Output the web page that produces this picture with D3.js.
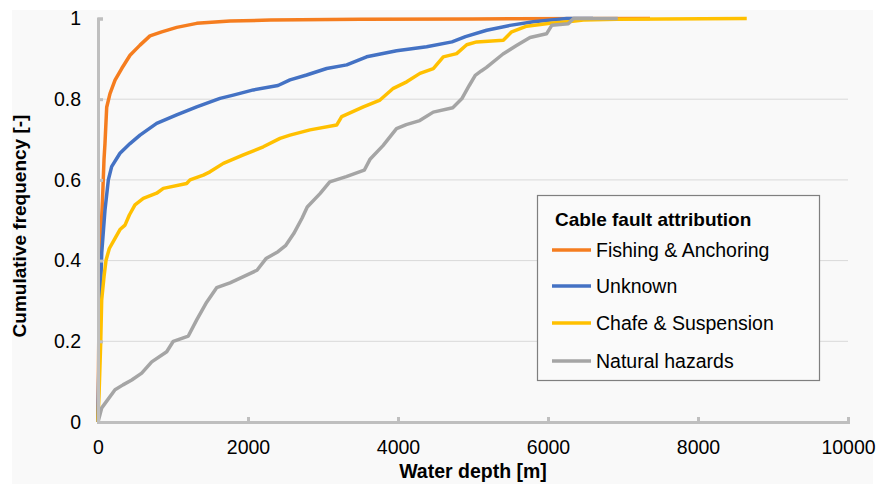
<!DOCTYPE html>
<html>
<head>
<meta charset="utf-8">
<script src="https://cdn.jsdelivr.net/npm/d3@7"></script>
<style>
  body { margin: 0; background: #fff; }
  svg { display: block; font-family: "Liberation Sans", Arial, sans-serif; }
</style>
</head>
<body>
<script>
// series names and colours (legend order = draw order)
var seriesNames = ["Fishing & Anchoring", "Unknown", "Chafe & Suspension", "Natural hazards"];
var seriesColors = ["#f57d1f", "#4472c4", "#ffc000", "#a5a5a5"];

// cumulative curves: depth [m] and cumulative frequency [-]
var fishingDepth = [0, 5, 15, 35, 60, 80, 93, 116, 160, 227, 316, 427, 560, 693, 850, 1050, 1316, 1760, 2300, 3500, 5000, 7360];
var fishingFreq  = [0, 0.1, 0.3, 0.45, 0.55, 0.65, 0.69, 0.78, 0.814, 0.847, 0.876, 0.909, 0.934, 0.957, 0.967, 0.978, 0.988, 0.994, 0.996, 0.998, 0.999, 1];

var unknownDepth = [0, 20, 50, 93, 138, 182, 293, 427, 560, 782, 1049, 1316, 1627, 1804, 2071, 2400, 2560, 2782, 3049, 3316, 3582, 3982, 4382, 4720, 4900, 5182, 5493, 5804, 6250, 6600];
var unknownFreq  = [0, 0.25, 0.42, 0.525, 0.6, 0.633, 0.666, 0.69, 0.711, 0.74, 0.761, 0.781, 0.802, 0.81, 0.823, 0.834, 0.848, 0.86, 0.876, 0.885, 0.905, 0.92, 0.93, 0.942, 0.955, 0.971, 0.983, 0.992, 1, 1];

var chafeDepth = [0, 17, 36, 49, 80, 107, 151, 227, 293, 360, 418, 493, 604, 782, 871, 1182, 1227, 1404, 1493, 1671, 1938, 2204, 2427, 2560, 2827, 3182, 3249, 3538, 3760, 3938, 4116, 4293, 4471, 4604, 4782, 4916, 5049, 5404, 5516, 5716, 6027, 6271, 6471, 6916, 8650];
var chafeFreq  = [0, 0.087, 0.196, 0.302, 0.36, 0.401, 0.43, 0.455, 0.477, 0.488, 0.513, 0.538, 0.554, 0.567, 0.579, 0.591, 0.6, 0.612, 0.62, 0.641, 0.662, 0.682, 0.703, 0.711, 0.724, 0.736, 0.757, 0.781, 0.798, 0.827, 0.843, 0.864, 0.876, 0.905, 0.913, 0.935, 0.942, 0.946, 0.967, 0.981, 0.988, 0.992, 0.996, 0.998, 1];

var naturalDepth = [0, 50, 227, 333, 450, 583, 716, 916, 1004, 1204, 1316, 1449, 1582, 1760, 1982, 2120, 2240, 2400, 2500, 2610, 2720, 2790, 2960, 3090, 3310, 3550, 3630, 3800, 3980, 4110, 4290, 4470, 4730, 4850, 4950, 5030, 5110, 5180, 5400, 5580, 5760, 5980, 6050, 6270, 6340, 6930];
var naturalFreq  = [0, 0.035, 0.08, 0.092, 0.104, 0.121, 0.149, 0.174, 0.2, 0.213, 0.253, 0.297, 0.333, 0.345, 0.364, 0.376, 0.405, 0.422, 0.437, 0.467, 0.505, 0.533, 0.566, 0.595, 0.608, 0.624, 0.652, 0.685, 0.727, 0.737, 0.747, 0.768, 0.779, 0.801, 0.834, 0.859, 0.87, 0.879, 0.912, 0.933, 0.953, 0.962, 0.983, 0.987, 1, 1];

var xTicks = [0, 2000, 4000, 6000, 8000, 10000];
var yTicks = [0, 0.2, 0.4, 0.6, 0.8, 1];
var gridTicks = [0.2, 0.4, 0.6, 0.8];

var width = 877, height = 488;

var svg = d3.select("body").append("svg")
    .attr("width", width)
    .attr("height", height);

// light grey panel behind everything
svg.append("rect")
    .attr("x", 12).attr("y", 10)
    .attr("width", 861).attr("height", 474)
    .attr("fill", "#f9f9f9");

var x = d3.scaleLinear().domain([0, 10000]).range([98, 848]);
var y = d3.scaleLinear().domain([0, 1]).range([422, 18.5]);

// horizontal gridlines
svg.append("g").selectAll("line")
    .data(gridTicks)
    .enter().append("line")
    .attr("x1", x(0)).attr("x2", x(10000))
    .attr("y1", function(d){ return y(d); })
    .attr("y2", function(d){ return y(d); })
    .attr("stroke", "#d9d9d9")
    .attr("stroke-width", 1);

// data lines
var series = [
    { name: seriesNames[0], depth: fishingDepth, freq: fishingFreq },
    { name: seriesNames[1], depth: unknownDepth, freq: unknownFreq },
    { name: seriesNames[2], depth: chafeDepth, freq: chafeFreq },
    { name: seriesNames[3], depth: naturalDepth, freq: naturalFreq }
];

var line = d3.line()
    .x(function(d){ return x(d[0]); })
    .y(function(d){ return y(d[1]); });

svg.append("g").selectAll("path")
    .data(series)
    .enter().append("path")
    .attr("fill", "none")
    .attr("stroke", function(d, i){ return seriesColors[i]; })
    .attr("stroke-width", 3.5)
    .attr("stroke-linejoin", "round")
    .attr("d", function(d){
        return line(d.depth.map(function(v, i){ return [v, d.freq[i]]; }));
    });

// axes: thick grey lines, ticks pointing inward
var xAxis = svg.append("g")
    .attr("transform", "translate(0," + y(0) + ")")
    .call(d3.axisBottom(x).tickValues(xTicks).tickFormat(d3.format("d"))
        .tickSizeInner(-5).tickSizeOuter(-5).tickPadding(18));

var yAxis = svg.append("g")
    .attr("transform", "translate(" + x(0) + ",0)")
    .call(d3.axisLeft(y).tickValues(yTicks).tickFormat(function(d){ return d3.format("")(d); })
        .tickSizeInner(-5).tickSizeOuter(-5).tickPadding(17));

[xAxis, yAxis].forEach(function(g){
    g.select(".domain").attr("stroke", "#bfbfbf").attr("stroke-width", 3);
    g.selectAll(".tick line").attr("stroke", "#bfbfbf").attr("stroke-width", 3);
    g.selectAll(".tick text")
        .attr("fill", "#000")
        .style("font-family", "'Liberation Sans', Arial, sans-serif")
        .style("font-size", "19.5px");
});

// axis titles
svg.append("text")
    .attr("x", 473).attr("y", 478)
    .attr("text-anchor", "middle")
    .style("font-size", "19.5px")
    .style("font-weight", "bold")
    .text("Water depth [m]");

svg.append("text")
    .attr("transform", "translate(26,226) rotate(-90)")
    .attr("text-anchor", "middle")
    .style("font-size", "19px")
    .style("font-weight", "bold")
    .text("Cumulative frequency [-]");

// legend
var legend = svg.append("g");
legend.append("rect")
    .attr("x", 537.5).attr("y", 195.5)
    .attr("width", 282).attr("height", 185)
    .attr("fill", "#fafafa")
    .attr("stroke", "#7f7f7f")
    .attr("stroke-width", 1.2);

legend.append("text")
    .attr("x", 555).attr("y", 226)
    .style("font-size", "19px")
    .style("font-weight", "bold")
    .text("Cable fault attribution");

var rowY = [250, 286, 323, 361];
var rows = legend.selectAll(".row")
    .data(series)
    .enter().append("g")
    .attr("class", "row")
    .attr("transform", function(d, i){ return "translate(0," + rowY[i] + ")"; });

rows.append("line")
    .attr("x1", 552).attr("x2", 591)
    .attr("stroke", function(d, i){ return seriesColors[i]; })
    .attr("stroke-width", 3.5);

rows.append("text")
    .attr("x", 596).attr("dy", "0.36em")
    .style("font-size", "19.5px")
    .text(function(d){ return d.name; });
</script>
</body>
</html>
